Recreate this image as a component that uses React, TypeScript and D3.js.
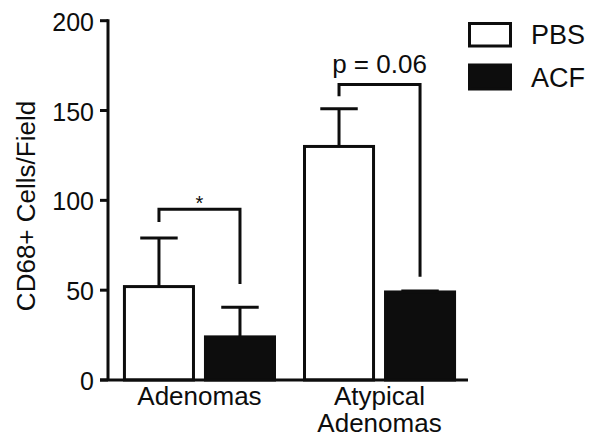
import React from "react";
import * as d3 from "d3";

const categories = ["Adenomas", "Atypical Adenomas"];
const categoryLines = [["Adenomas"], ["Atypical", "Adenomas"]];
const series = ["PBS", "ACF"];
const pbsMeans = [52, 130];
const pbsSem = [27, 21];
const acfMeans = [24, 49];
const acfSem = [16.5, 0.5];
const yTicks = [0, 50, 100, 150, 200];
const bracketTop = [95, 164.5];
const bracketLeftEnd = [88, 158];
const bracketRightEnd = [53.5, 57.5];
const bracketLabels = ["*", "p = 0.06"];
const yLabel = "CD68+ Cells/Field";

const W = 594;
const H = 443;
const FONT = "'Liberation Sans', Arial, sans-serif";
const INK = "#0d0d0d";

export default function App() {
  const axisX = 108;
  const axisEnd = 468;
  const y = d3.scaleLinear().domain([0, 200]).range([380, 20.7]);
  const x0 = d3
    .scaleBand<string>()
    .domain(categories)
    .range([108, 471])
    .paddingInner(0.15)
    .paddingOuter(0.083);
  const x1 = d3
    .scaleBand<string>()
    .domain(series)
    .range([0, x0.bandwidth()])
    .paddingInner(0.111);

  const means: Record<string, number[]> = { PBS: pbsMeans, ACF: acfMeans };
  const sems: Record<string, number[]> = { PBS: pbsSem, ACF: acfSem };
  const fills: Record<string, string> = { PBS: "#fff", ACF: INK };
  const sw = 3;
  const bw = x1.bandwidth();

  return (
    <svg
      width={W}
      height={H}
      style={{ position: "absolute", left: 0, top: 0, background: "#fff" }}
      fontFamily={FONT}
    >
      <rect width={W} height={H} fill="#fff" />
      {/* bars */}
      {categories.map((c, ci) =>
        series.map((s) => {
          const bx = (x0(c) as number) + (x1(s) as number);
          const v = means[s][ci];
          const e = sems[s][ci];
          const cx = bx + bw / 2;
          return (
            <g key={c + s}>
              <line
                x1={cx}
                x2={cx}
                y1={y(v)}
                y2={y(v + e)}
                stroke={INK}
                strokeWidth={sw}
              />
              <line
                x1={cx - bw * 0.26}
                x2={cx + bw * 0.26}
                y1={y(v + e)}
                y2={y(v + e)}
                stroke={INK}
                strokeWidth={sw}
              />
              <rect
                x={bx + sw / 2}
                y={y(v)}
                width={bw - sw}
                height={y(0) - y(v)}
                fill={fills[s]}
                stroke={INK}
                strokeWidth={sw}
              />
            </g>
          );
        })
      )}
      {/* brackets */}
      {categories.map((c, ci) => {
        const xl = (x0(c) as number) + (x1("PBS") as number) + bw / 2;
        const xr = (x0(c) as number) + (x1("ACF") as number) + bw / 2;
        const d = `M${xl},${y(bracketLeftEnd[ci])}V${y(bracketTop[ci])}H${xr}V${y(
          bracketRightEnd[ci]
        )}`;
        const isStar = bracketLabels[ci] === "*";
        return (
          <g key={"br" + c}>
            <path d={d} fill="none" stroke={INK} strokeWidth={sw} />
            <text
              x={(xl + xr) / 2}
              y={y(bracketTop[ci]) + (isStar ? 1 : -11)}
              textAnchor="middle"
              fontSize={isStar ? 20 : 26}
              fill={INK}
            >
              {bracketLabels[ci]}
            </text>
          </g>
        );
      })}
      {/* y axis */}
      <line x1={axisX} x2={axisX} y1={y(200) - 1.5} y2={y(0)} stroke={INK} strokeWidth={sw} />
      {yTicks.map((t) => (
        <g key={t}>
          <line x1={axisX - 8} x2={axisX} y1={y(t)} y2={y(t)} stroke={INK} strokeWidth={sw} />
          <text x={94} y={y(t) + 10} textAnchor="end" fontSize={25} fill={INK}>
            {t}
          </text>
        </g>
      ))}
      {/* x axis */}
      <line x1={axisX - 8} x2={axisEnd} y1={y(0)} y2={y(0)} stroke={INK} strokeWidth={sw} />
      {categories.map((c, ci) => {
        const cx = (x0(c) as number) + x0.bandwidth() / 2;
        return (
          <text key={"lab" + c} textAnchor="middle" fontSize={26} fill={INK}>
            {categoryLines[ci].map((ln, li) => (
              <tspan key={li} x={cx} y={405 + li * 27}>
                {ln}
              </tspan>
            ))}
          </text>
        );
      })}
      <text
        transform="translate(35,206) rotate(-90)"
        textAnchor="middle"
        fontSize={26}
        fill={INK}
      >
        {yLabel}
      </text>
      {/* legend */}
      {series.map((s, si) => {
        const ly = si === 0 ? 22 : 63.5;
        const lh = si === 0 ? 25.5 : 27;
        return (
          <g key={"lg" + s}>
            <rect
              x={468 + sw / 2}
              y={ly + sw / 2}
              width={44 - sw}
              height={lh - sw}
              fill={fills[s]}
              stroke={INK}
              strokeWidth={sw}
            />
            <text x={531} y={ly + lh / 2 + 9.5} fontSize={27} fill={INK}>
              {s}
            </text>
          </g>
        );
      })}
    </svg>
  );
}
